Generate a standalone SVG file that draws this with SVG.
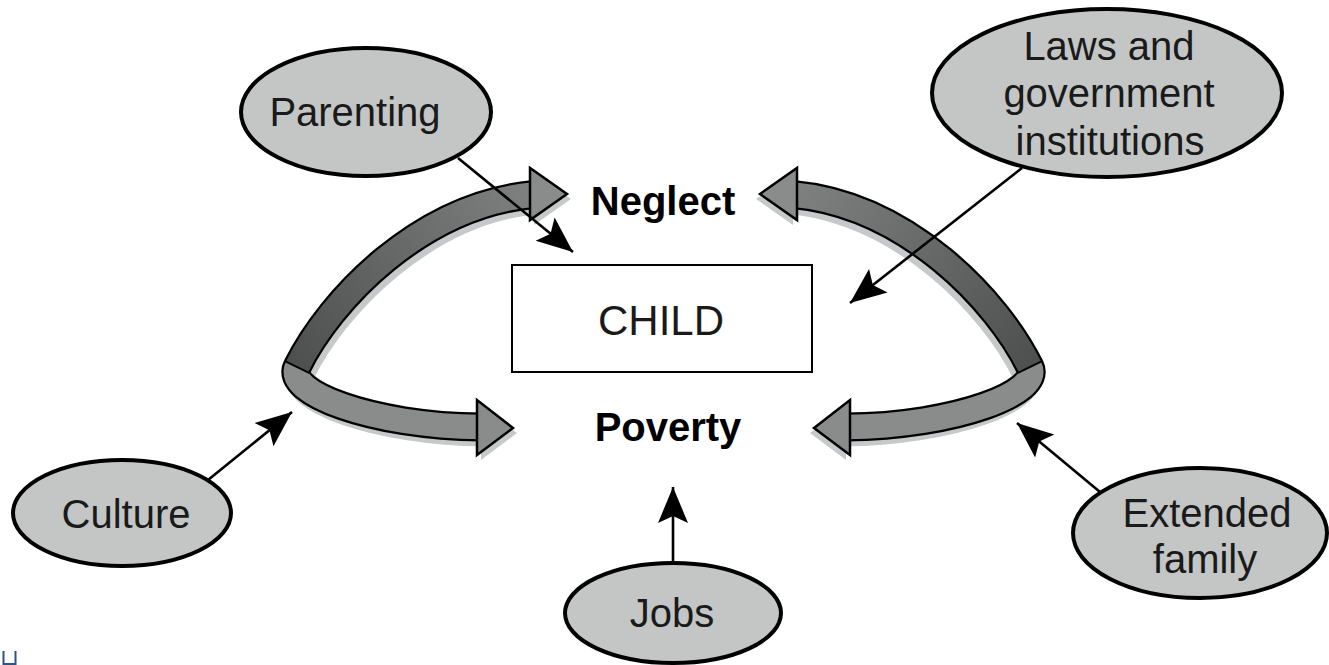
<svg xmlns="http://www.w3.org/2000/svg" xmlns:xlink="http://www.w3.org/1999/xlink" width="1329" height="665" viewBox="0 0 1329 665">
<style>
.ell{fill:#c3c6c5;stroke:#000;stroke-width:4}
.lbl{font-family:"Liberation Sans",Arial,sans-serif;font-size:40px;fill:#1a1a1a;text-anchor:middle}
.bold{font-weight:bold;fill:#000}
.thin{fill:none;stroke:#000;stroke-width:2.6}
.box{fill:#fff;stroke:#000;stroke-width:2}
.tri{fill:#8a8c8c;stroke:#000;stroke-width:2.5;stroke-linejoin:miter}
.shtri{fill:#c5c9c9;stroke:none}
</style>
<defs>
<marker id="ah" markerUnits="userSpaceOnUse" viewBox="-40 -20 44 40" markerWidth="44" markerHeight="40" refX="0" refY="0" orient="auto">
<path d="M0,0 L-36,-15 L-29,0 L-36,15 Z" fill="#000"/>
</marker>
<linearGradient id="dk" gradientUnits="userSpaceOnUse" x1="297" y1="367" x2="530" y2="195">
<stop offset="0" stop-color="#4e5050"/>
<stop offset="1" stop-color="#7e8080"/>
</linearGradient>
<path id="up" d="M297,367 C330,300 420,205 534,194.5"/>
<path id="lo" d="M297,367 C284.6,392.1 370,426 481,427"/>
<g id="bigArrow">
<g transform="translate(4,5)">
<use xlink:href="#up" fill="none" stroke="#c5c9c9" stroke-width="29"/>
<use xlink:href="#lo" fill="none" stroke="#c5c9c9" stroke-width="29"/>
<polygon class="shtri" points="530,168 530,220 567,194"/>
<polygon class="shtri" points="477,400 477,455 513,428"/>
</g>
<use xlink:href="#up" fill="none" stroke="#000" stroke-width="29"/>
<use xlink:href="#lo" fill="none" stroke="#000" stroke-width="29"/>
<use xlink:href="#up" fill="none" stroke="url(#dk)" stroke-width="24.5"/>
<use xlink:href="#lo" fill="none" stroke="#8a8c8c" stroke-width="24.5"/>
<line x1="284.4" y1="360.8" x2="309.6" y2="373.2" stroke="#000" stroke-width="2"/>
<polygon class="tri" points="530,168 530,220 567,194"/>
<polygon class="tri" points="477,400 477,455 513,428"/>
</g>
</defs>

<g id="connectors">
<use id="arrows-left" xlink:href="#bigArrow"/>
<use id="arrows-right" xlink:href="#bigArrow" transform="matrix(-1 0 0 1 1327 0)"/>
<line class="thin" x1="458" y1="158" x2="573" y2="252" marker-end="url(#ah)"/>
<line class="thin" x1="1022" y1="168" x2="850" y2="303" marker-end="url(#ah)"/>
<line class="thin" x1="208" y1="480" x2="292" y2="412" marker-end="url(#ah)"/>
<line class="thin" x1="1100" y1="492" x2="1017" y2="423" marker-end="url(#ah)"/>
<line class="thin" x1="673" y1="563" x2="673" y2="487" marker-end="url(#ah)"/>
</g>

<g id="node-child">
<rect class="box" x="512" y="265" width="300" height="107"/>
<text class="lbl" x="661" y="335" style="font-size:42px">CHILD</text>
</g>
<g id="node-neglect">
<text class="lbl bold" x="663" y="215">Neglect</text>
</g>
<g id="node-poverty">
<text class="lbl bold" x="668" y="441">Poverty</text>
</g>
<g id="node-parenting">
<ellipse class="ell" cx="366" cy="112" rx="125" ry="64"/>
<text class="lbl" x="355" y="126">Parenting</text>
</g>
<g id="node-laws">
<ellipse class="ell" cx="1107" cy="93" rx="175" ry="84"/>
<text class="lbl" x="1109" y="60">Laws and</text>
<text class="lbl" x="1109" y="107">government</text>
<text class="lbl" x="1110" y="155">institutions</text>
</g>
<g id="node-culture">
<ellipse class="ell" cx="122" cy="513" rx="109" ry="53"/>
<text class="lbl" x="126" y="528">Culture</text>
</g>
<g id="node-extended">
<ellipse class="ell" cx="1200" cy="533" rx="127" ry="65"/>
<text class="lbl" x="1207" y="527">Extended</text>
<text class="lbl" x="1205" y="573">family</text>
</g>
<g id="node-jobs">
<ellipse class="ell" cx="673" cy="613" rx="108" ry="50"/>
<text class="lbl" x="672" y="627">Jobs</text>
</g>
<path d="M3.5,651 V664 H15.5 V651" fill="none" stroke="#2a5584" stroke-width="2"/>
</svg>
